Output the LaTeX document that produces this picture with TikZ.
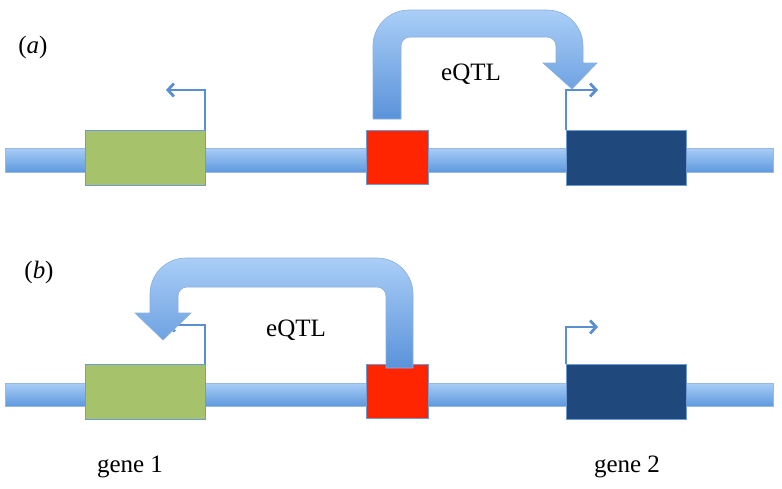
\documentclass[tikz,border=0pt]{standalone}
\usepackage{fontspec}
\setmainfont{Liberation Serif}
\usetikzlibrary{arrows.meta}
\definecolor{barlight}{HTML}{A9CDF6}
\definecolor{bardark}{HTML}{5E99DE}
\definecolor{arrlight}{HTML}{AACEF7}
\definecolor{arrdark}{HTML}{5A93DA}
\definecolor{edgeblue}{HTML}{6E9BD3}
\definecolor{tssblue}{HTML}{5B8ED0}
\definecolor{genegreen}{HTML}{A6C26A}
\definecolor{snpred}{HTML}{FF2500}
\definecolor{genedark}{HTML}{1F497D}
\tikzset{
  bar/.style={top color=barlight, bottom color=bardark, draw=edgeblue!70, line width=0.5pt},
  genebox/.style={draw=edgeblue, line width=0.6pt, minimum width=120pt, minimum height=55pt, inner sep=0pt, outer sep=0pt},
  snpbox/.style={draw=edgeblue, line width=0.6pt, minimum width=62pt, minimum height=54pt, inner sep=0pt, outer sep=0pt, fill=snpred},
  bigarrow/.style={top color=arrlight, bottom color=arrdark, draw=edgeblue!80, line width=0.6pt},
  tss/.style={draw=tssblue, line width=2.8pt, -{Straight Barb[length=6pt,width=13pt,line width=2.8pt]}},
  lbl/.style={font=\fontsize{25}{30}\selectfont, inner sep=0pt, anchor=base}
}
\begin{document}
\begin{tikzpicture}[x=1pt,y=-1pt]
\useasboundingbox (0,0) rectangle (782,488);
% ---------- panel (a) ----------
\node[lbl] (la) at (33,53) {(\textit{a})};
\path[bar] (5,148) rectangle (773,172);
\node[genebox, fill=genegreen] (g1a) at (145,157.5) {};
\node[snpbox] (sa) at (397,157) {};
\node[genebox, fill=genedark] (g2a) at (626,157.5) {};
\coordinate (t1a) at (205,90);
\coordinate (t2a) at (566,90);
\draw[tss] (g1a.north east) -- (t1a) -- (166,90);
\draw[tss] (g2a.north west) -- (t2a) -- (598,90);
\path[bigarrow] (373,119) [rounded corners=36pt] -- (373,10) -- (583,10) [sharp corners] -- (583,63) -- (597,63) -- (572,89) -- (543,63) -- (556,63) [rounded corners=9pt] -- (556,37) -- (401,37) [sharp corners] -- (401,119) -- cycle;
\node[lbl] (qa) at (471,80) {eQTL};
% ---------- panel (b) ----------
\node[lbl] (lb) at (39,278) {(\textit{b})};
\path[bar] (5,383) rectangle (773,406);
\node[genebox, fill=genegreen] (g1b) at (145,391.5) {};
\node[snpbox] (sb) at (397,391.5) {};
\node[genebox, fill=genedark] (g2b) at (626,391.5) {};
\coordinate (t1b) at (205,325);
\coordinate (t2b) at (566,327);
\draw[tss] (g1b.north east) -- (t1b) -- (167,325);
\draw[tss] (g2b.north west) -- (t2b) -- (598,327);
\path[bigarrow] (413,368) [rounded corners=36pt] -- (413,258) -- (150,258) [sharp corners] -- (150,313) -- (135,313) -- (163,340) -- (191,313) -- (178,313) [rounded corners=9pt] -- (178,287) -- (386,287) [sharp corners] -- (386,368) -- cycle;
\node[lbl] (qb) at (296,336) {eQTL};
\node[lbl] (n1) at (130,472) {gene 1};
\node[lbl] (n2) at (627,472) {gene 2};
\end{tikzpicture}
\end{document}
